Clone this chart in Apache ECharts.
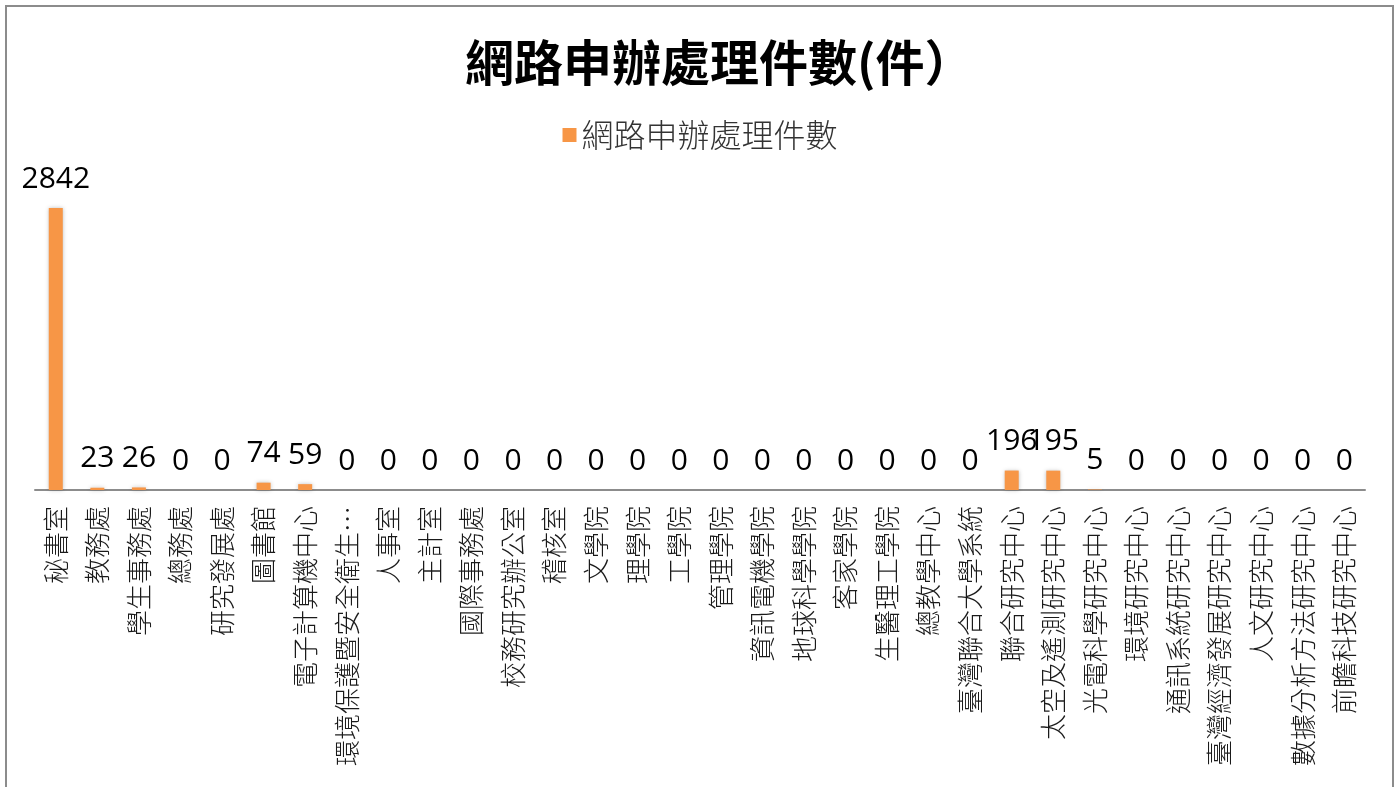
<!DOCTYPE html>
<html>
<head>
<meta charset="utf-8">
<script src="https://cdn.jsdelivr.net/npm/echarts@6/dist/echarts.min.js"></script>
<style>
html,body{margin:0;padding:0;background:#fff;}
#chart{width:1400px;height:787px;}
</style>
</head>
<body>
<div id="chart"></div>
<script>
const titleText = '網路申辦處理件數(件）';
const seriesName = '網路申辦處理件數';
const categories = [
  '秘書室','教務處','學生事務處','總務處','研究發展處','圖書館','電子計算機中心',
  '環境保護暨安全衛生…','人事室','主計室','國際事務處','校務研究辦公室','稽核室',
  '文學院','理學院','工學院','管理學院','資訊電機學院','地球科學學院','客家學院',
  '生醫理工學院','總教學中心','臺灣聯合大學系統','聯合研究中心','太空及遙測研究中心',
  '光電科學研究中心','環境研究中心','通訊系統研究中心','臺灣經濟發展研究中心',
  '人文研究中心','數據分析方法研究中心','前瞻科技研究中心'
];
const values = [
  2842, 23, 26, 0, 0, 74, 59,
  0, 0, 0, 0, 0, 0,
  0, 0, 0, 0, 0, 0, 0,
  0, 0, 0, 196, 195,
  5, 0, 0, 0,
  0, 0, 0
];

const chart = echarts.init(document.getElementById('chart'), null, {renderer:'canvas'});
chart.setOption({
  backgroundColor: '#ffffff',
  animation: false,
  title: {
    text: titleText,
    left: 460,
    top: 33,
    textStyle: {
      fontFamily: '"Noto Sans CJK TC","Noto Sans CJK SC",sans-serif',
      fontSize: 49,
      fontWeight: 'bold',
      color: '#000000'
    }
  },
  legend: {
    data: [seriesName],
    top: 114,
    left: 'center',
    icon: 'rect',
    itemWidth: 14,
    itemHeight: 14,
    itemGap: 6,
    textStyle: {
      fontFamily: '"Noto Sans CJK TC",sans-serif',
      fontSize: 32,
      fontWeight: 300,
      color: '#333333'
    }
  },
  graphic: [{
    type: 'rect',
    shape: {x: 6, y: 6, width: 1387, height: 800},
    style: {fill: 'none', stroke: '#8c8c8c', lineWidth: 2},
    silent: true
  }],
  grid: {
    left: 35,
    right: 35,
    top: 150,
    bottom: 297,
    containLabel: false
  },
  xAxis: {
    type: 'category',
    data: categories,
    axisLine: {show: true, lineStyle: {color: '#8c8c8c', width: 2}},
    axisTick: {show: false},
    axisLabel: {
      rotate: 90,
      interval: 0,
      margin: 16,
      fontFamily: '"Noto Sans CJK TC",sans-serif',
      fontSize: 26,
      fontWeight: 300,
      color: '#1a1a1a'
    }
  },
  yAxis: {
    type: 'value',
    min: 0,
    max: 3427,
    show: false,
    splitLine: {show: false}
  },
  series: [{
    name: seriesName,
    type: 'bar',
    data: values,
    barWidth: 14,
    itemStyle: {
      color: '#F79646',
      shadowColor: 'rgba(0,0,0,0.25)',
      shadowBlur: 4,
      shadowOffsetX: 0,
      shadowOffsetY: 0
    },
    label: {
      show: true,
      position: 'top',
      distance: 14,
      fontFamily: '"Open Sans",sans-serif',
      fontSize: 30,
      color: '#000000'
    }
  }]
});
</script>
</body>
</html>
